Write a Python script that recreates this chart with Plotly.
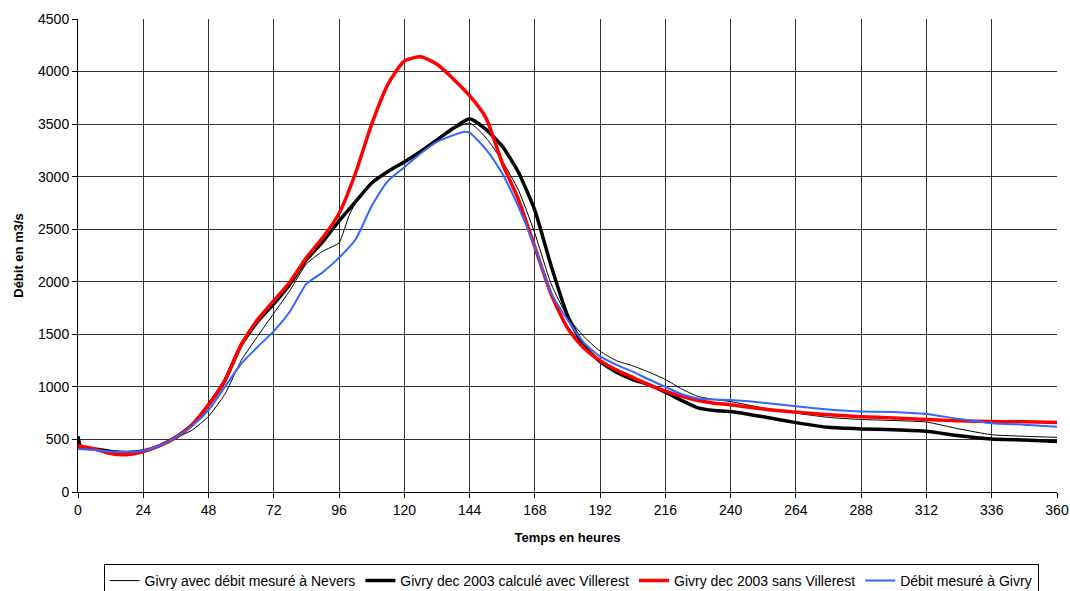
import plotly.graph_objects as go

# Hours (x) and discharge values (m3/s)
hours_nevers = [0, 6, 12, 18, 24, 30, 36, 42, 48, 54, 60, 66, 72, 78, 84, 90, 94, 96, 100, 104, 108, 114, 120, 126, 132, 138, 144,
                150, 156, 162, 168, 174, 180, 186, 192, 198, 204, 210, 216, 222, 228, 234, 240, 252, 264, 276, 288, 300, 312,
                324, 336, 348, 360]
givry_nevers = [420, 405, 385, 378, 390, 440, 515, 590, 720, 930, 1250, 1480, 1700, 1920, 2170, 2290, 2340, 2370, 2650, 2830, 2950,
                3060, 3150, 3250, 3350, 3450, 3510, 3370, 3150, 2870, 2460, 1980, 1670, 1480, 1340, 1250, 1200, 1140, 1070, 980,
                910, 880, 860, 800, 750, 710, 690, 680, 665, 600, 545, 530, 520]

hours_avec = [0, 1, 6, 12, 18, 24, 30, 36, 42, 48, 54, 60, 66, 72, 78, 84, 90, 96, 102, 108, 114, 120, 126, 132, 138, 144,
              150, 156, 162, 168, 174, 180, 186, 192, 198, 204, 210, 216, 222, 228, 234, 240, 252, 264, 276, 288, 300, 312,
              324, 336, 348, 360]
givry_avec = [530, 430, 410, 385, 375, 390, 440, 520, 640, 830, 1060, 1400, 1620, 1790, 1980, 2210, 2380, 2580, 2760, 2940, 3050,
              3140, 3240, 3350, 3460, 3550, 3450, 3290, 3040, 2680, 2150, 1680, 1390, 1240, 1140, 1070, 1020, 950, 870, 800,
              775, 765, 715, 660, 615, 600, 592, 578, 535, 505, 495, 480]

hours_sans = [0, 6, 12, 18, 24, 30, 36, 42, 48, 54, 60, 66, 72, 78, 84, 90, 96, 102, 108, 114, 120, 126, 132, 138, 144,
              150, 156, 162, 168, 174, 180, 186, 192, 198, 204, 210, 216, 222, 228, 234, 240, 252, 264, 276, 288, 300, 312,
              324, 336, 348, 360]
givry_sans = [440, 410, 365, 355, 385, 440, 520, 640, 830, 1060, 1400, 1640, 1820, 2000, 2230, 2420, 2650, 3030, 3500, 3880,
              4100, 4140, 4070, 3930, 3770, 3560, 3130, 2780, 2330, 1880, 1560, 1370, 1250, 1160, 1090, 1020, 960, 910, 870,
              845, 830, 790, 760, 735, 717, 705, 690, 677, 670, 668, 662]

hours_mesure = [0, 6, 12, 18, 24, 30, 36, 42, 48, 54, 60, 66, 72, 78, 84, 90, 96, 102, 108, 114, 120, 126, 132, 138, 142, 144,
                150, 156, 162, 168, 174, 180, 186, 192, 198, 204, 210, 216, 222, 228, 234, 240, 252, 264, 276, 288, 300, 312,
                324, 336, 348, 360]
debit_givry = [410, 400, 385, 380, 392, 440, 520, 630, 780, 1000, 1220, 1380, 1530, 1720, 1980, 2090, 2230, 2400, 2720, 2960,
               3090, 3220, 3330, 3395, 3428, 3420, 3260, 3030, 2710, 2330, 1890, 1640, 1420, 1290, 1210, 1145, 1070, 1000, 930,
               890, 880, 875, 850, 815, 785, 765, 762, 742, 695, 655, 640, 620]

x_ticks = list(range(0, 361, 24))
y_ticks = list(range(0, 4501, 500))

FONT = "Liberation Sans, Arial, sans-serif"
W, H = 1070, 591

fig = go.Figure()
fig.add_trace(go.Scatter(x=hours_nevers, y=givry_nevers, mode="lines", name="Givry avec débit mesuré à Nevers",
                         line=dict(color="black", width=1, shape="spline", smoothing=0.6)))
fig.add_trace(go.Scatter(x=hours_avec, y=givry_avec, mode="lines", name="Givry dec 2003 calculé avec Villerest",
                         line=dict(color="black", width=3.5, shape="spline", smoothing=0.5)))
fig.add_trace(go.Scatter(x=hours_sans, y=givry_sans, mode="lines", name="Givry dec 2003 sans Villerest",
                         line=dict(color="#ff0000", width=3.5, shape="spline", smoothing=0.6)))
fig.add_trace(go.Scatter(x=hours_mesure, y=debit_givry, mode="lines", name="Débit mesuré à Givry",
                         line=dict(color="#3366ff", width=2, shape="spline", smoothing=0.6)))

fig.update_layout(
    width=W, height=H,
    margin=dict(l=78, r=13, t=19, b=99, autoexpand=False),
    paper_bgcolor="white", plot_bgcolor="white",
    font=dict(family=FONT, size=14, color="black"),
    showlegend=True,
    legend=dict(orientation="h", x=571 / W, xanchor="center", xref="container",
                y=1 - 564 / H, yanchor="top", yref="container",
                bordercolor="black", borderwidth=1, font=dict(size=14, family=FONT),
                tracegroupgap=0, itemwidth=30),
)
fig.update_xaxes(range=[0, 360], tickvals=x_ticks, ticktext=[str(v) for v in x_ticks],
                 automargin=False, tickfont=dict(size=14, family=FONT),
                 showgrid=True, gridcolor="#333333", gridwidth=1,
                 showline=True, linecolor="black", linewidth=1,
                 ticks="outside", ticklen=5, tickcolor="black",
                 zeroline=False, title=dict(text="<b>Temps en heures</b>", font=dict(size=13, family=FONT), standoff=16))
fig.update_yaxes(range=[0, 4500], tickvals=y_ticks, ticktext=[str(v) for v in y_ticks],
                 automargin=False, tickfont=dict(size=14, family=FONT),
                 showgrid=True, gridcolor="#333333", gridwidth=1,
                 showline=True, linecolor="black", linewidth=1,
                 ticks="outside", ticklen=5, tickcolor="black",
                 zeroline=False, title=dict(text="<b>Débit en m3/s</b>", font=dict(size=13, family=FONT), standoff=11))

fig.write_html("out.html", config={"displayModeBar": False},
               post_script="document.body.style.margin='0';document.documentElement.style.overflow='hidden';document.body.style.overflow='hidden';")
